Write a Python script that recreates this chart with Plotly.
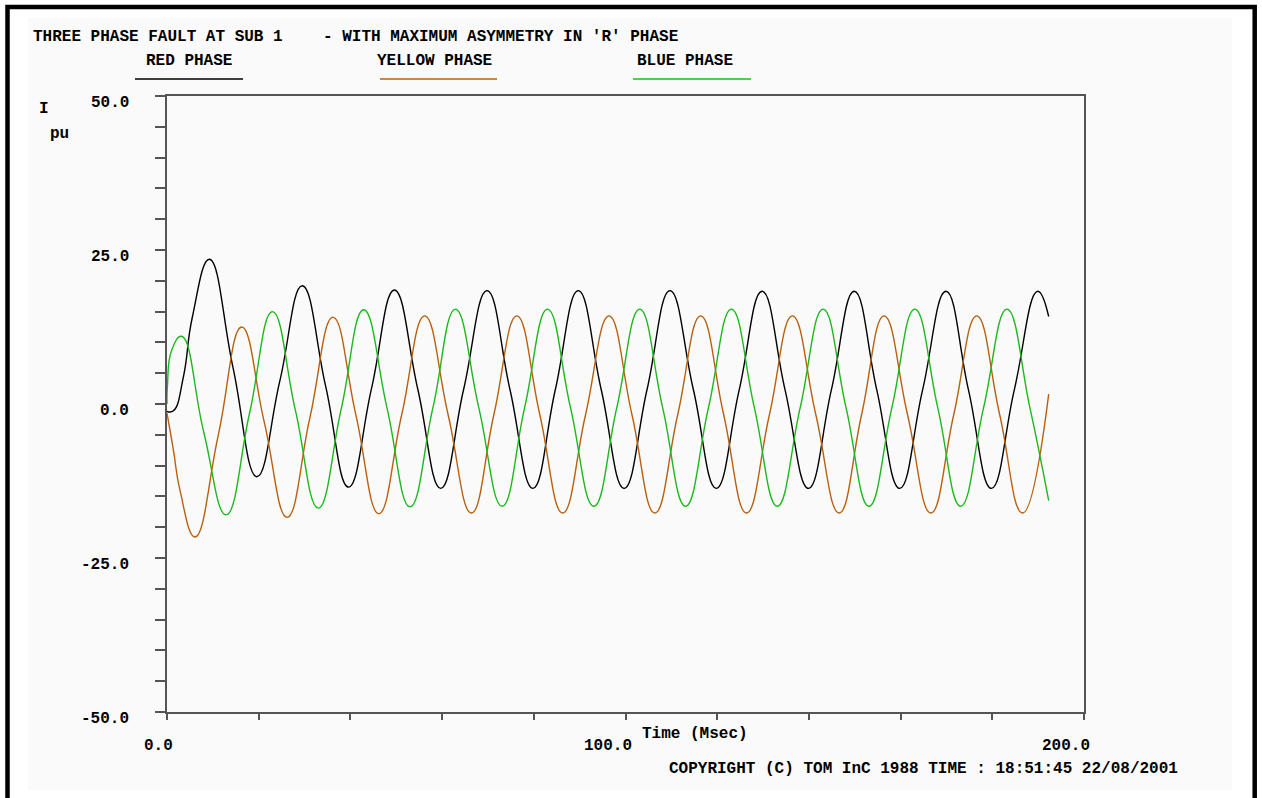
import plotly.graph_objects as go

# ---------------- data ----------------
red_t = [0, 1.4, 3.6, 5.5, 9.25, 14.4, 19.6, 24.6, 29.5, 34.6,
         39.6, 44.6, 49.6, 54.7, 59.7, 64.7, 69.8, 74.8, 79.8, 84.7, 89.7, 94.7, 99.7,
         104.7, 109.7, 114.8, 119.8, 124.8, 129.8, 134.8, 139.9, 144.9, 149.9, 154.8,
         159.8, 164.8, 169.9, 174.8, 179.8, 184.8, 189.9, 192.3]
red_i = [-1.2, -1.1, 4.5, 14.0, 23.5, 5.9, -11.8, 3.7, 19.2, 2.9,
         -13.5, 2.5, 18.5, 2.4, -13.7, 2.4, 18.4, 2.35, -13.7, 2.35, 18.4, 2.35, -13.7,
         2.35, 18.4, 2.35, -13.7, 2.3, 18.3, 2.3, -13.7, 2.3, 18.3, 2.3,
         -13.7, 2.3, 18.3, 2.3, -13.7, 2.3, 18.3, 14.2]

yellow_t = [0, 1.4, 2.8, 6.1, 11.2, 16.3, 21.2, 26.2, 31.2, 36.2, 41.2,
            46.2, 51.2, 56.2, 61.3, 66.4, 71.3, 76.3, 81.3, 86.3, 91.3, 96.4, 101.4,
            106.4, 111.4, 116.4, 121.4, 126.4, 131.4, 136.4, 141.5, 146.6, 151.5, 156.4,
            161.5, 166.6, 171.6, 176.6, 181.6, 186.6, 192.3]
yellow_i = [-1.5, -7.5, -13.9, -21.6, -5.0, 12.5, -2.9, -18.4, -2.1, 14.1, -1.8,
            -17.8, -1.7, 14.3, -1.7, -17.7, -1.7, 14.3, -1.7, -17.7, -1.7, 14.3, -1.7,
            -17.7, -1.7, 14.3, -1.7, -17.7, -1.7, 14.3, -1.7, -17.7, -1.7, 14.3,
            -1.7, -17.7, -1.7, 14.3, -1.7, -17.7, 1.6]

blue_t = [0, 0.1, 1.0, 3.2, 8.0, 12.9, 18.0, 23.0, 28.0, 33.0, 38.0, 42.9, 48.0,
          53.0, 58.0, 62.9, 68.0, 73.1, 78.0, 83.0, 88.0, 93.1, 98.1, 103.1, 108.1, 113.1,
          118.1, 123.1, 128.1, 133.1, 138.1, 143.1, 148.1, 153.1, 158.1, 163.1, 168.1,
          173.1, 178.1, 183.2, 188.2, 192.3]
blue_i = [0.0, 3.0, 8.7, 11.0, -4.5, -18.0, -1.5, 15.0, -1.0, -16.9, -0.8, 15.3, -0.7,
          -16.7, -0.6, 15.4, -0.6, -16.6, -0.6, 15.4, -0.6, -16.6, -0.6, 15.4, -0.6, -16.6,
          -0.6, 15.4, -0.6, -16.6, -0.6, 15.4, -0.6, -16.6, -0.6, 15.4, -0.6,
          -16.6, -0.6, 15.4, -0.6, -15.7]

series_names = ["RED PHASE", "YELLOW PHASE", "BLUE PHASE"]
series_colors = ["#000000", "#b8600f", "#1db81d"]

x_major_vals = [0, 100, 200]
x_major_text = ["0.0", "100.0", "200.0"]
x_minor_vals = list(range(0, 201, 20))
y_major_vals = [50, 25, 0, -25, -50]
y_major_text = ["50.0", "25.0", "0.0", "-25.0", "-50.0"]
y_minor_vals = list(range(-50, 51, 5))

title_left = "THREE PHASE FAULT AT SUB 1"
title_right = "- WITH MAXIMUM ASYMMETRY IN 'R' PHASE"
x_title = "Time (Msec)"
footer = "COPYRIGHT (C) TOM InC 1988 TIME : 18:51:45 22/08/2001"

# ---------------- layout geometry ----------------
W, H = 1262, 798
L, R, T, B = 167, 1084, 96, 712   # plot area in pixels


def px(xp):
    return (xp - L) / (R - L)


def py(yp):
    return (B - yp) / (B - T)


FONT = dict(family="Liberation Mono", size=16, color="#000000", weight="bold")

fig = go.Figure()
for t, i, name, col in zip([red_t, yellow_t, blue_t], [red_i, yellow_i, blue_i],
                           series_names, series_colors):
    fig.add_trace(go.Scatter(x=t, y=i, mode="lines", name=name,
                             line=dict(color=col, width=1.4, shape="spline", smoothing=1.3),
                             hoverinfo="skip"))

shapes = [
    # light grey panel
    dict(type="rect", xref="paper", yref="paper", x0=px(28), x1=px(1232), y0=py(18), y1=py(790),
         fillcolor="#fafafa", line=dict(width=0), layer="below"),
    # outer black frame
    dict(type="rect", xref="paper", yref="paper", x0=px(7.5), x1=px(1254.7), y0=py(7), y1=py(810),
         fillcolor="rgba(0,0,0,0)", line=dict(color="#000000", width=4.5), layer="above"),
]
# legend underlines
legend_lines = [(135, 243), (380, 497), (633, 751)]
for (a, b), col in zip(legend_lines, series_colors):
    shapes.append(dict(type="line", xref="paper", yref="paper", x0=px(a), x1=px(b),
                       y0=py(79), y1=py(79), line=dict(color=col, width=1.6)))

ann = []
ann.append(dict(text=title_left, xref="paper", yref="paper", x=px(31), y=py(37),
                xanchor="left", yanchor="middle", showarrow=False, font=FONT))
ann.append(dict(text=title_right, xref="paper", yref="paper", x=px(321), y=py(37),
                xanchor="left", yanchor="middle", showarrow=False, font=FONT))
for name, cx in zip(series_names, [189, 434.5, 685]):
    ann.append(dict(text=name, xref="paper", yref="paper", x=px(cx), y=py(61),
                    xanchor="center", yanchor="middle", showarrow=False, font=FONT))
ann.append(dict(text="I", xref="paper", yref="paper", x=px(44), y=py(109),
                xanchor="center", yanchor="middle", showarrow=False, font=FONT))
ann.append(dict(text="pu", xref="paper", yref="paper", x=px(59), y=py(134),
                xanchor="center", yanchor="middle", showarrow=False, font=FONT))
for v, txt in zip(y_major_vals, y_major_text):
    ann.append(dict(text=txt, xref="paper", yref="y", x=px(131), y=v, yshift=-7,
                    xanchor="right", yanchor="middle", showarrow=False, font=FONT))
for v, txt in zip(x_major_vals, x_major_text):
    ann.append(dict(text=txt, xref="x", yref="paper", x=v, xshift=8, y=py(746),
                    xanchor="right", yanchor="middle", showarrow=False, font=FONT))
ann.append(dict(text=x_title, xref="paper", yref="paper", x=px(694.5), y=py(734),
                xanchor="center", yanchor="middle", showarrow=False, font=FONT))
ann.append(dict(text=footer, xref="paper", yref="paper", x=px(923.5), y=py(769),
                xanchor="center", yanchor="middle", showarrow=False, font=FONT))

fig.update_layout(
    width=W, height=H, autosize=False,
    margin=dict(l=L, r=W - R, t=T, b=H - B, pad=0),
    paper_bgcolor="#ffffff", plot_bgcolor="#fafafa",
    showlegend=False, shapes=shapes, annotations=ann,
    hovermode=False,
)
fig.update_xaxes(range=[0, 200], tickvals=x_minor_vals, ticks="outside", ticklen=6,
                 tickwidth=1.5, tickcolor="#555555", showticklabels=False,
                 showline=True, linecolor="#555555", linewidth=1.6, mirror=True,
                 showgrid=False, zeroline=False, fixedrange=True)
fig.update_yaxes(range=[-50, 50], tickvals=y_minor_vals, ticks="outside", ticklen=10,
                 tickwidth=1.5, tickcolor="#555555", showticklabels=False,
                 showline=True, linecolor="#555555", linewidth=1.6, mirror=True,
                 showgrid=False, zeroline=False, fixedrange=True)

fig.write_html("out.html", config=dict(displayModeBar=False))
